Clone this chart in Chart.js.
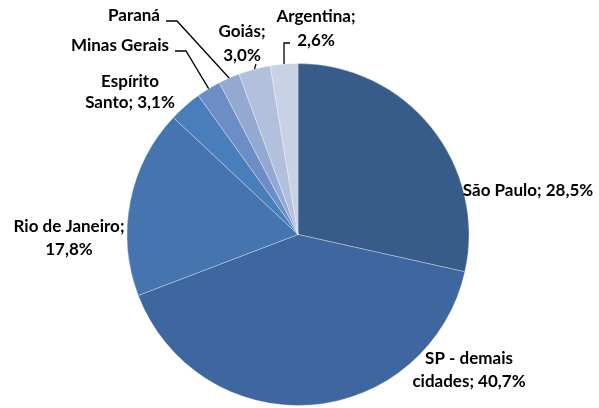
<!DOCTYPE html>
<html>
<head>
<meta charset="utf-8">
<script src="https://cdn.jsdelivr.net/npm/chart.js@4"></script>
<style>
  html, body { margin: 0; padding: 0; background: #fff; }
  #wrap { width: 599px; height: 408px; }
</style>
</head>
<body>
<div id="wrap"><canvas id="pie"></canvas></div>
<script>
const regions = ['São Paulo', 'SP - demais cidades', 'Rio de Janeiro', 'Espírito Santo',
                 'Minas Gerais', 'Paraná', 'Goiás', 'Argentina'];
const shares = [28.5, 40.7, 17.8, 3.1, 2.3, 2.0, 3.0, 2.6];
const sliceColors = ['#375C8A', '#3E679F', '#4574AE', '#4A7EBB',
                     '#6C8DC6', '#94A9D2', '#B2C0DE', '#C8D1E6'];

// text for each slice label
const labelLines = [
  ['São Paulo; 28,5%'],
  ['SP - demais', 'cidades; 40,7%'],
  ['Rio de Janeiro;', '17,8%'],
  ['Espírito', 'Santo; 3,1%'],
  ['Minas Gerais'],
  ['Paraná'],
  ['Goiás;', '3,0%'],
  ['Argentina;', '2,6%']
];

// label placement: text centre, line gap, leader start + elbow
const labelLayout = [
  { x: 528, y: 191, gap: 0 },
  { x: 469, y: 359, gap: 23 },
  { x: 69, y: 227, gap: 23 },
  { x: 130, y: 82, gap: 21 },
  { x: 120, y: 46, gap: 0, lead: [[175, 51], [186, 51]] },
  { x: 134, y: 16, gap: 0, lead: [[166, 21], [177, 21]] },
  { x: 242, y: 32, gap: 24, lead: [[256, 64]] },
  { x: 316, y: 17, gap: 24, lead: [[290, 43], [284, 43]] }
];

const sliceLabels = {
  id: 'sliceLabels',
  afterDatasetsDraw(chart) {
    const ctx = chart.ctx;
    const meta = chart.getDatasetMeta(0);
    ctx.save();
    meta.data.forEach((arc, i) => {
      const p = arc.getProps(['x', 'y', 'startAngle', 'endAngle', 'outerRadius'], true);
      const mid = (p.startAngle + p.endAngle) / 2;
      const lay = labelLayout[i];
      if (lay.lead) {
        const ex = p.x + Math.cos(mid) * p.outerRadius;
        const ey = p.y + Math.sin(mid) * p.outerRadius;
        ctx.beginPath();
        ctx.strokeStyle = '#000';
        ctx.lineWidth = 1.3;
        lay.lead.forEach((pt, k) => k === 0 ? ctx.moveTo(pt[0], pt[1]) : ctx.lineTo(pt[0], pt[1]));
        ctx.lineTo(ex, ey);
        ctx.stroke();
      }
      ctx.fillStyle = '#000';
      ctx.font = 'bold 17px Lato';
      ctx.textAlign = 'center';
      ctx.textBaseline = 'middle';
      labelLines[i].forEach((line, k) => {
        ctx.fillText(line, lay.x, lay.y + k * lay.gap);
      });
    });
    ctx.restore();
  }
};

new Chart(document.getElementById('pie'), {
  type: 'pie',
  data: {
    labels: regions,
    datasets: [{
      data: shares,
      backgroundColor: sliceColors,
      borderColor: 'rgba(255,255,255,0.3)',
      borderWidth: 1
    }]
  },
  options: {
    responsive: true,
    maintainAspectRatio: false,
    animation: false,
    layout: { padding: { top: 63, bottom: 2, left: 0, right: 3 } },
    plugins: {
      legend: { display: false },
      tooltip: { enabled: false }
    }
  },
  plugins: [sliceLabels]
});
</script>
</body>
</html>
